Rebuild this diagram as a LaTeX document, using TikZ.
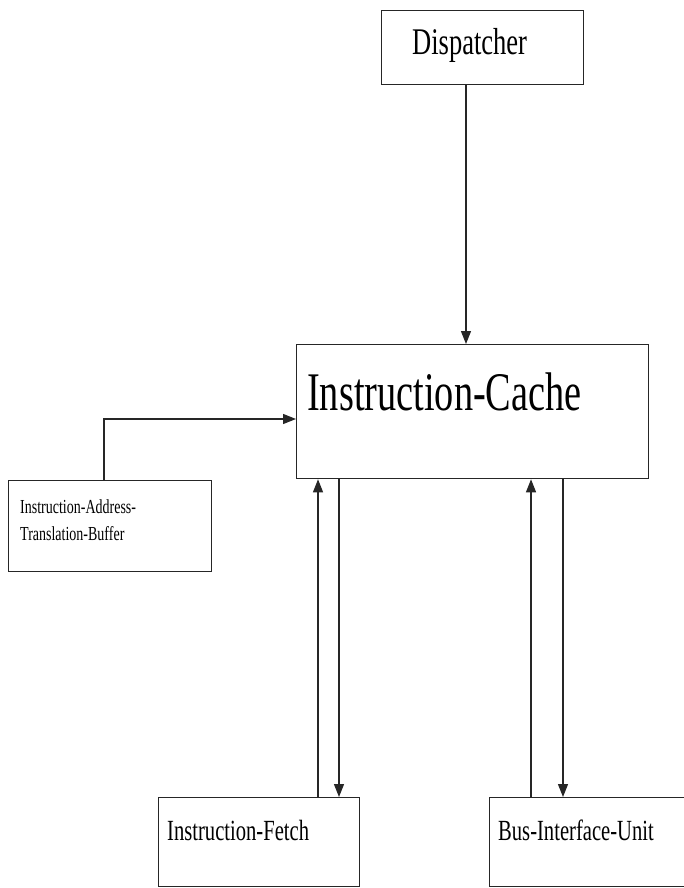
\documentclass[tikz,border=0pt]{standalone}
\usepackage{fontspec}
\setmainfont{Liberation Serif}
\usepackage{graphicx}
\usetikzlibrary{arrows.meta}
\begin{document}
\begin{tikzpicture}[x=1pt,y=-1pt,
  unit/.style={draw=black!85, line width=1.3pt, rectangle, inner sep=0pt, anchor=north west},
  lbl/.style={anchor=base west, inner sep=0pt},
  arr/.style={draw=black!85, line width=1.2pt, -{Triangle[length=13pt,width=10pt]}}]
\newcommand{\tallfont}[3]{\fontsize{#1}{#2}\selectfont\scalebox{1}[1.42]{#3}}
\useasboundingbox (0,0) rectangle (684,888);
\fill[white] (0,0) rectangle (684,888);

% blocks
\node[unit, minimum width=202pt, minimum height=74pt] (disp) at (381,10) {};
\node[unit, minimum width=352pt, minimum height=134pt] (ic) at (296,344) {};
\node[unit, minimum width=203pt, minimum height=91pt] (iatb) at (8,480) {};
\node[unit, minimum width=201pt, minimum height=89pt] (ifetch) at (158,797) {};
\node[unit, minimum width=205pt, minimum height=89pt] (biu) at (489,797) {};

% block labels
\node[lbl] (tdisp) at (412,55) {\tallfont{26.5}{30}{Dispatcher}};
\node[lbl] (tic) at (307,410) {\tallfont{38.3}{42}{Instruction-Cache}};
\node[lbl] (tiatb1) at (20,513) {\tallfont{14}{17}{Instruction-Address-}};
\node[lbl] (tiatb2) at (20,540) {\tallfont{14}{17}{Translation-Buffer}};
\node[lbl] (tif) at (167,840) {\tallfont{20.6}{24}{Instruction-Fetch}};
\node[lbl] (tbiu) at (498,840) {\tallfont{20.6}{24}{Bus-Interface-Unit}};

% connectors
\coordinate (dsrc) at ([xshift=85pt]disp.south west);
\draw[arr] (dsrc) -- (dsrc |- ic.north);

\coordinate (aturn) at (104,419);
\draw[arr] (iatb.north west -| aturn) -- (aturn) -- (aturn -| ic.west);

\coordinate (ifup) at ([xshift=160pt]ifetch.north west);
\coordinate (ifdn) at ([xshift=181pt]ifetch.north west);
\draw[arr] (ifup) -- (ifup |- ic.south);
\draw[arr] (ifdn |- ic.south) -- (ifdn);

\coordinate (buup) at ([xshift=42pt]biu.north west);
\coordinate (budn) at ([xshift=74pt]biu.north west);
\draw[arr] (buup) -- (buup |- ic.south);
\draw[arr] (budn |- ic.south) -- (budn);
\end{tikzpicture}
\end{document}
